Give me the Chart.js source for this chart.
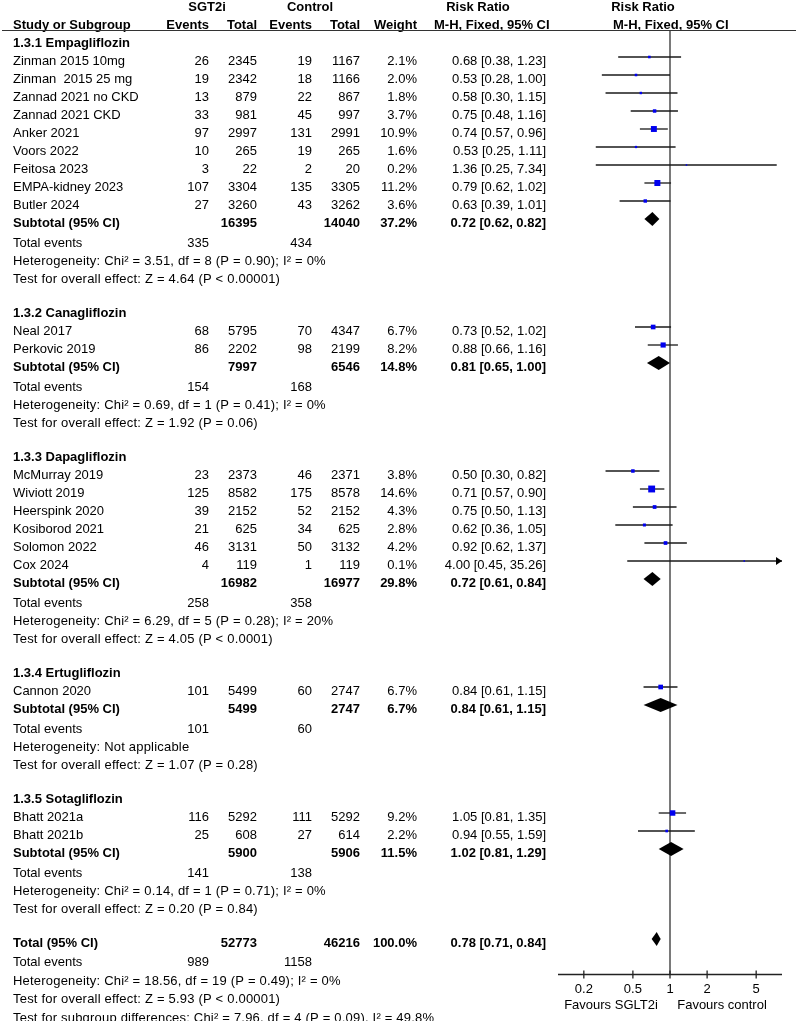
<!DOCTYPE html>
<html>
<head>
<meta charset="utf-8">
<script src="https://cdn.jsdelivr.net/npm/chart.js@4.4.1/dist/chart.umd.min.js"></script>
<style>
html,body{margin:0;padding:0;background:#fff;}
#wrap{position:relative;width:796px;height:1021px;}
</style>
</head>
<body>
<div id="wrap"><canvas id="forestCanvas"></canvas></div>
<script>
(function(){
'use strict';

// --- data ---
var groupNames = ['1.3.1 Empagliflozin','1.3.2 Canagliflozin','1.3.3 Dapagliflozin','1.3.4 Ertugliflozin','1.3.5 Sotagliflozin'];

var studyNames = ['Zinman 2015 10mg','Zinman  2015 25 mg','Zannad 2021 no CKD','Zannad 2021 CKD','Anker 2021','Voors 2022','Feitosa 2023','EMPA-kidney 2023','Butler 2024',
  'Neal 2017','Perkovic 2019',
  'McMurray 2019','Wiviott 2019','Heerspink 2020','Kosiborod 2021','Solomon 2022','Cox 2024',
  'Cannon 2020',
  'Bhatt 2021a','Bhatt 2021b'];
var studyGroup = [0,0,0,0,0,0,0,0,0, 1,1, 2,2,2,2,2,2, 3, 4,4];
var evSglt  = [26,19,13,33,97,10,3,107,27, 68,86, 23,125,39,21,46,4, 101, 116,25];
var totSglt = [2345,2342,879,981,2997,265,22,3304,3260, 5795,2202, 2373,8582,2152,625,3131,119, 5499, 5292,608];
var evCtrl  = [19,18,22,45,131,19,2,135,43, 70,98, 46,175,52,34,50,1, 60, 111,27];
var totCtrl = [1167,1166,867,997,2991,265,20,3305,3262, 4347,2199, 2371,8578,2152,625,3132,119, 2747, 5292,614];
var weight  = [2.1,2.0,1.8,3.7,10.9,1.6,0.2,11.2,3.6, 6.7,8.2, 3.8,14.6,4.3,2.8,4.2,0.1, 6.7, 9.2,2.2];
var rr      = [0.68,0.53,0.58,0.75,0.74,0.53,1.36,0.79,0.63, 0.73,0.88, 0.50,0.71,0.75,0.62,0.92,4.00, 0.84, 1.05,0.94];
var ciLo    = [0.38,0.28,0.30,0.48,0.57,0.25,0.25,0.62,0.39, 0.52,0.66, 0.30,0.57,0.50,0.36,0.62,0.45, 0.61, 0.81,0.55];
var ciHi    = [1.23,1.00,1.15,1.16,0.96,1.11,7.34,1.02,1.01, 1.02,1.16, 0.82,0.90,1.13,1.05,1.37,35.26, 1.15, 1.35,1.59];

var subTotSglt = [16395,7997,16982,5499,5900];
var subTotCtrl = [14040,6546,16977,2747,5906];
var subWeight  = [37.2,14.8,29.8,6.7,11.5];
var subRR      = [0.72,0.81,0.72,0.84,1.02];
var subLo      = [0.62,0.65,0.61,0.61,0.81];
var subHi      = [0.82,1.00,0.84,1.15,1.29];
var subEvSglt  = [335,154,258,101,141];
var subEvCtrl  = [434,168,358,60,138];
var subHet = ['Heterogeneity: Chi\u00B2 = 3.51, df = 8 (P = 0.90); I\u00B2 = 0%',
  'Heterogeneity: Chi\u00B2 = 0.69, df = 1 (P = 0.41); I\u00B2 = 0%',
  'Heterogeneity: Chi\u00B2 = 6.29, df = 5 (P = 0.28); I\u00B2 = 20%',
  'Heterogeneity: Not applicable',
  'Heterogeneity: Chi\u00B2 = 0.14, df = 1 (P = 0.71); I\u00B2 = 0%'];
var subEffect = ['Test for overall effect: Z = 4.64 (P < 0.00001)',
  'Test for overall effect: Z = 1.92 (P = 0.06)',
  'Test for overall effect: Z = 4.05 (P < 0.0001)',
  'Test for overall effect: Z = 1.07 (P = 0.28)',
  'Test for overall effect: Z = 0.20 (P = 0.84)'];

var totalSglt = 52773, totalCtrl = 46216, totalWeight = 100.0;
var totalRR = 0.78, totalLo = 0.71, totalHi = 0.84;
var totalEvSglt = 989, totalEvCtrl = 1158;
var totalNotes = ['Heterogeneity: Chi\u00B2 = 18.56, df = 19 (P = 0.49); I\u00B2 = 0%',
  'Test for overall effect: Z = 5.93 (P < 0.00001)',
  'Test for subgroup differences: Chi\u00B2 = 7.96, df = 4 (P = 0.09), I\u00B2 = 49.8%'];

var tickValues = [0.2,0.5,1,2,5];
var tickLabels = ['0.2','0.5','1','2','5'];
var favourLeft = 'Favours SGLT2i';
var favourRight = 'Favours control';

// --- layout ---
var FONT = '"Liberation Sans", Arial, sans-serif';
var FS = 13;
var X_MIN = 1/8.1, X_MAX = 8.1;
var Y_MIN = -0.611, Y_MAX = 51.944;
var COL = {name:13, ev1:209, tot1:257, ev2:312, tot2:360, wt:417, rr:546};
var TXT_OFF = 4;

// build table rows (line index)
var rows = [];
var studyU = [];
var subU = [];
var u = 0;
groupNames.forEach(function(g, gi){
  rows.push({t:'group', u:u++, g:gi});
  studyNames.forEach(function(n, i){
    if (studyGroup[i] === gi) { rows.push({t:'study', u:u, i:i}); studyU[i] = u; u++; }
  });
  subU[gi] = u;
  rows.push({t:'sub', u:u, g:gi});
  u += 1.12;
  rows.push({t:'events', u:u++, a:subEvSglt[gi], b:subEvCtrl[gi]});
  rows.push({t:'note', u:u, s:subHet[gi]}); u += 1.02;
  rows.push({t:'note', u:u, s:subEffect[gi]}); u += 1;
  u += 0.86;
});
u = Math.round(u);
var totalU = u;
rows.push({t:'total', u:u}); u += 1.1;
rows.push({t:'events', u:u, a:totalEvSglt, b:totalEvCtrl}); u += 1.03;
totalNotes.forEach(function(s){ rows.push({t:'note', u:u, s:s}); u += 1.03; });

function rrText(v, l, h){ return v.toFixed(2)+' ['+l.toFixed(2)+', '+h.toFixed(2)+']'; }
function pct(w){ return w.toFixed(1)+'%'; }

// datasets
var datasets = [];
studyNames.forEach(function(n, i){
  datasets.push({
    type:'line', data:[{x:ciLo[i], y:studyU[i]},{x:ciHi[i], y:studyU[i]}],
    borderColor:'#1a1a1a', borderWidth:1.3, pointRadius:0, order:2
  });
});
datasets.push({
  type:'line', data:[{x:1, y:-0.5},{x:1, y:Y_MAX}],
  borderColor:'#333', borderWidth:1.3, pointRadius:0, order:3
});
datasets.push({
  type:'scatter',
  data:studyNames.map(function(n, i){ return {x:rr[i], y:studyU[i]}; }),
  pointStyle:'rect',
  pointRadius:weight.map(function(w){ return Math.max(1.5, 1.8*Math.sqrt(w)) / Math.SQRT2; }),
  backgroundColor:'#0000ee', borderWidth:0, order:1
});

function drawDiamond(ctx, xs, ys, est, lo, hi, uu){
  var y = ys.getPixelForValue(uu);
  ctx.beginPath();
  ctx.moveTo(xs.getPixelForValue(lo), y);
  ctx.lineTo(xs.getPixelForValue(est), y-7);
  ctx.lineTo(xs.getPixelForValue(hi), y);
  ctx.lineTo(xs.getPixelForValue(est), y+7);
  ctx.closePath();
  ctx.fillStyle = '#000';
  ctx.fill();
}

var tablePlugin = {
  id:'forestTable',
  afterDraw:function(chart){
    var ctx = chart.ctx, xs = chart.scales.x, ys = chart.scales.y, area = chart.chartArea;
    ctx.save();
    ctx.fillStyle = '#000';
    ctx.textBaseline = 'middle';
    function txt(s, x, y, align, bold, spacing){
      ctx.font = (bold ? 'bold ' : '') + FS + 'px ' + FONT;
      ctx.textAlign = align || 'left';
      ctx.letterSpacing = spacing || '0px';
      ctx.fillText(s, x, y);
      ctx.letterSpacing = '0px';
    }
    // header
    txt('SGT2i', 207, 7, 'center', true);
    txt('Control', 310, 7, 'center', true);
    txt('Risk Ratio', 478, 7, 'center', true);
    txt('Risk Ratio', 643, 7, 'center', true);
    txt('Study or Subgroup', COL.name, 25, 'left', true);
    txt('Events', COL.ev1, 25, 'right', true);
    txt('Total', COL.tot1, 25, 'right', true);
    txt('Events', COL.ev2, 25, 'right', true);
    txt('Total', COL.tot2, 25, 'right', true);
    txt('Weight', COL.wt, 25, 'right', true);
    txt('M-H, Fixed, 95% CI', 434, 25, 'left', true);
    txt('M-H, Fixed, 95% CI', 613, 25, 'left', true);
    ctx.strokeStyle = '#333';
    ctx.lineWidth = 1;
    ctx.beginPath(); ctx.moveTo(2, 30.5); ctx.lineTo(796, 30.5); ctx.stroke();

    rows.forEach(function(r){
      var y = ys.getPixelForValue(r.u) + TXT_OFF;
      if (r.t === 'group') {
        txt(groupNames[r.g], COL.name, y, 'left', true);
      } else if (r.t === 'study') {
        var i = r.i;
        txt(studyNames[i], COL.name, y);
        txt(String(evSglt[i]), COL.ev1, y, 'right');
        txt(String(totSglt[i]), COL.tot1, y, 'right');
        txt(String(evCtrl[i]), COL.ev2, y, 'right');
        txt(String(totCtrl[i]), COL.tot2, y, 'right');
        txt(pct(weight[i]), COL.wt, y, 'right');
        txt(rrText(rr[i], ciLo[i], ciHi[i]), COL.rr, y, 'right');
      } else if (r.t === 'sub') {
        var g = r.g;
        txt('Subtotal (95% CI)', COL.name, y, 'left', true);
        txt(String(subTotSglt[g]), COL.tot1, y, 'right', true);
        txt(String(subTotCtrl[g]), COL.tot2, y, 'right', true);
        txt(pct(subWeight[g]), COL.wt, y, 'right', true);
        txt(rrText(subRR[g], subLo[g], subHi[g]), COL.rr, y, 'right', true);
      } else if (r.t === 'total') {
        txt('Total (95% CI)', COL.name, y, 'left', true);
        txt(String(totalSglt), COL.tot1, y, 'right', true);
        txt(String(totalCtrl), COL.tot2, y, 'right', true);
        txt(pct(totalWeight), COL.wt, y, 'right', true);
        txt(rrText(totalRR, totalLo, totalHi), COL.rr, y, 'right', true);
      } else if (r.t === 'events') {
        txt('Total events', COL.name, y);
        txt(String(r.a), COL.ev1, y, 'right');
        txt(String(r.b), COL.ev2, y, 'right');
      } else {
        txt(r.s, COL.name, y, 'left', false, '0.2px');
      }
    });

    // diamonds
    groupNames.forEach(function(g, gi){ drawDiamond(ctx, xs, ys, subRR[gi], subLo[gi], subHi[gi], subU[gi]); });
    drawDiamond(ctx, xs, ys, totalRR, totalLo, totalHi, totalU);

    // arrows for CIs running off the scale
    ciHi.forEach(function(h, i){
      if (h > X_MAX) {
        var yy = ys.getPixelForValue(studyU[i]);
        ctx.beginPath();
        ctx.moveTo(area.right, yy);
        ctx.lineTo(area.right-6, yy-4);
        ctx.lineTo(area.right-6, yy+4);
        ctx.closePath();
        ctx.fillStyle = '#000';
        ctx.fill();
      }
    });

    // x axis
    var yb = area.bottom + 0.5;
    ctx.strokeStyle = '#222';
    ctx.lineWidth = 1.3;
    ctx.beginPath(); ctx.moveTo(area.left, yb); ctx.lineTo(area.right, yb); ctx.stroke();
    ctx.fillStyle = '#000';
    tickValues.forEach(function(t, k){
      var x = xs.getPixelForValue(t);
      ctx.beginPath(); ctx.moveTo(x, yb-4); ctx.lineTo(x, yb+4); ctx.stroke();
      txt(tickLabels[k], x, yb+15, 'center');
    });
    txt(favourLeft, 611, yb+31, 'center');
    txt(favourRight, 722, yb+31, 'center');
    ctx.restore();
  }
};

new Chart(document.getElementById('forestCanvas').getContext('2d'), {
  type:'scatter',
  data:{datasets:datasets},
  options:{
    responsive:true,
    maintainAspectRatio:false,
    animation:false,
    events:[],
    layout:{padding:{left:558, right:14, top:28, bottom:47}},
    scales:{
      x:{type:'logarithmic', min:X_MIN, max:X_MAX, display:false},
      y:{type:'linear', min:Y_MIN, max:Y_MAX, reverse:true, display:false}
    },
    plugins:{legend:{display:false}, tooltip:{enabled:false}}
  },
  plugins:[tablePlugin]
});

})();
</script>
</body>
</html>
